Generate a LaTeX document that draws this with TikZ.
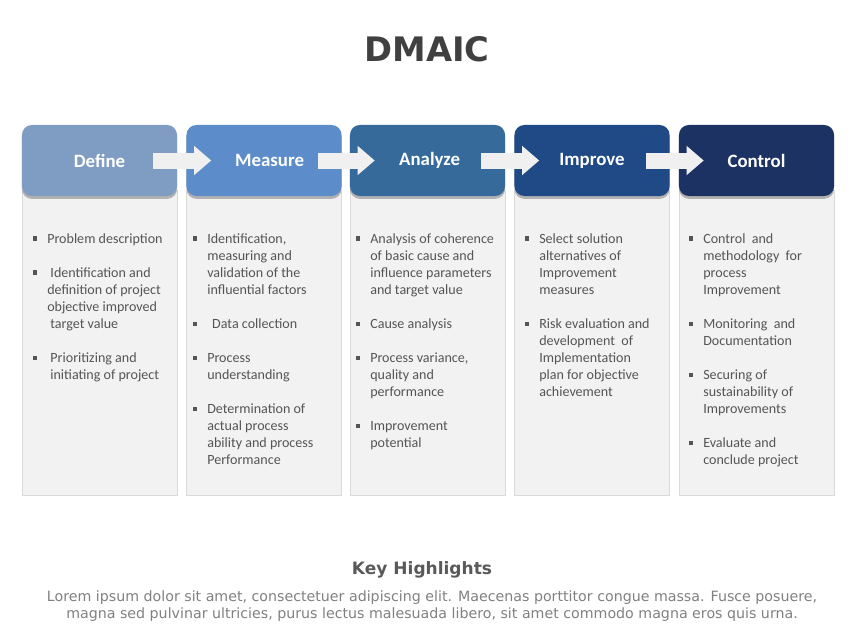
\documentclass[tikz,border=0pt]{standalone}
\usepackage{fontspec}
\setmainfont{Carlito}
\newfontfamily\dejavu{DejaVu Sans}
\usetikzlibrary{arrows.meta,shadows}

\definecolor{cdefine}{HTML}{7F9DC2}
\definecolor{cmeasure}{HTML}{5C8DCA}
\definecolor{canalyze}{HTML}{356A9B}
\definecolor{cimprove}{HTML}{1F4A85}
\definecolor{ccontrol}{HTML}{1B3262}
\definecolor{panel}{HTML}{F2F2F2}
\definecolor{panelline}{HTML}{D9D9D9}
\definecolor{arrowfill}{HTML}{F0F0F0}
\definecolor{bodytext}{HTML}{555555}

\newcommand{\bul}{\makebox[0pt][r]{\rule[1.7pt]{3pt}{3pt}\hspace{7pt}}}
\newcommand{\ind}{\hspace*{2.2pt}}
\newcommand{\gap}{\\[12.1pt]}

\begin{document}
\begin{tikzpicture}[x=0.025cm, y=-0.025cm,
  panelbox/.style={draw=panelline, line width=0.6pt, fill=panel,
    minimum width=3.875cm, minimum height=7.625cm},
  headbox/.style={rounded corners=7pt, minimum width=3.875cm, minimum height=1.775cm,
    text=white, font=\bfseries\fontsize{13.4}{15}\selectfont,
    drop shadow={shadow xshift=0pt, shadow yshift=-2pt, opacity=0.45, fill=black!60}},
  items/.style={anchor=north west, inner sep=0pt, align=left, text=bodytext,
    font=\fontsize{10}{12.1}\selectfont},
  flow/.style={draw=arrowfill, line width=0.4cm,
    -{Triangle[length=0.425cm, width=0.7cm]}}]
	\useasboundingbox (0,0) rectangle (853,640);
	\node [font=\dejavu\bfseries\fontsize{24}{28}\selectfont, text=black!75] (title) at (427,49) {DMAIC};
	% panels
	\node [panelbox] (P1) at (99.5,342.5) {};
	\node [panelbox] (P2) at (264,342.5) {};
	\node [panelbox] (P3) at (427.5,342.5) {};
	\node [panelbox] (P4) at (592,342.5) {};
	\node [panelbox] (P5) at (756.5,342.5) {};
	% headers
	\node [headbox, fill=cdefine] (H1) at (99.5,160.5) {Define};
	\node [headbox, fill=cmeasure] (H2) at (264,160.5) {\hspace{8pt}Measure};
	\node [headbox, fill=canalyze] (H3) at (427.5,160.5) {\hspace{3pt}Analyze};
	\node [headbox, fill=cimprove] (H4) at (592,160.5) {Improve};
	\node [headbox, fill=ccontrol] (H5) at (756.5,160.5) {Control};
	\draw [flow] ([xshift=-0.6cm]H1.east) -- ([xshift=0.625cm]H2.west);
	\draw [flow] ([xshift=-0.6cm]H2.east) -- ([xshift=0.625cm]H3.west);
	\draw [flow] ([xshift=-0.6cm]H3.east) -- ([xshift=0.625cm]H4.west);
	\draw [flow] ([xshift=-0.6cm]H4.east) -- ([xshift=0.625cm]H5.west);
	% lists
	\node [items] (L1) at (47,233) {\bul Problem description\gap
		\bul\ Identification and\\ definition of project\\ objective improved\\ \ind target value\gap
		\bul\ Prioritizing and\\ \ind initiating of project};
	\node [items] (L2) at (207,233) {\bul Identification,\\ measuring and\\ validation of the\\ influential factors\gap
		\bul\hspace{3.5pt}Data collection\gap
		\bul Process\\ understanding\gap
		\bul Determination of\\ actual process\\ ability and process\\ Performance};
	\node [items] (L3) at (370,233) {\bul Analysis of coherence\\ of basic cause and\\ influence parameters\\ and target value\gap
		\bul Cause analysis\gap
		\bul Process variance,\\ quality and\\ performance\gap
		\bul Improvement\\ potential};
	\node [items] (L4) at (539,233) {\bul Select solution\\ alternatives of\\ Improvement\\ measures\gap
		\bul Risk evaluation and\\ development\ \ of\\ Implementation\\ plan for objective\\ achievement};
	\node [items] (L5) at (703,233) {\bul Control\ \ and\\ methodology\ \ for\\ process\\ Improvement\gap
		\bul Monitoring\ \ and\\ Documentation\gap
		\bul Securing of\\ sustainability of\\ Improvements\gap
		\bul Evaluate and\\ conclude project};
	% footer
	\node [font=\dejavu\bfseries\fontsize{12.1}{14}\selectfont, text=black!65] (key) at (422,570) {Key Highlights};
	\node [font=\dejavu\fontsize{10.1}{12.1}\selectfont, text=black!50, align=center] (lorem) at (432,606)
		{Lorem ipsum dolor sit amet, consectetuer adipiscing elit. Maecenas porttitor congue massa. Fusce posuere,\\
		magna sed pulvinar ultricies, purus lectus malesuada libero, sit amet commodo magna eros quis urna.};
\end{tikzpicture}
\end{document}
